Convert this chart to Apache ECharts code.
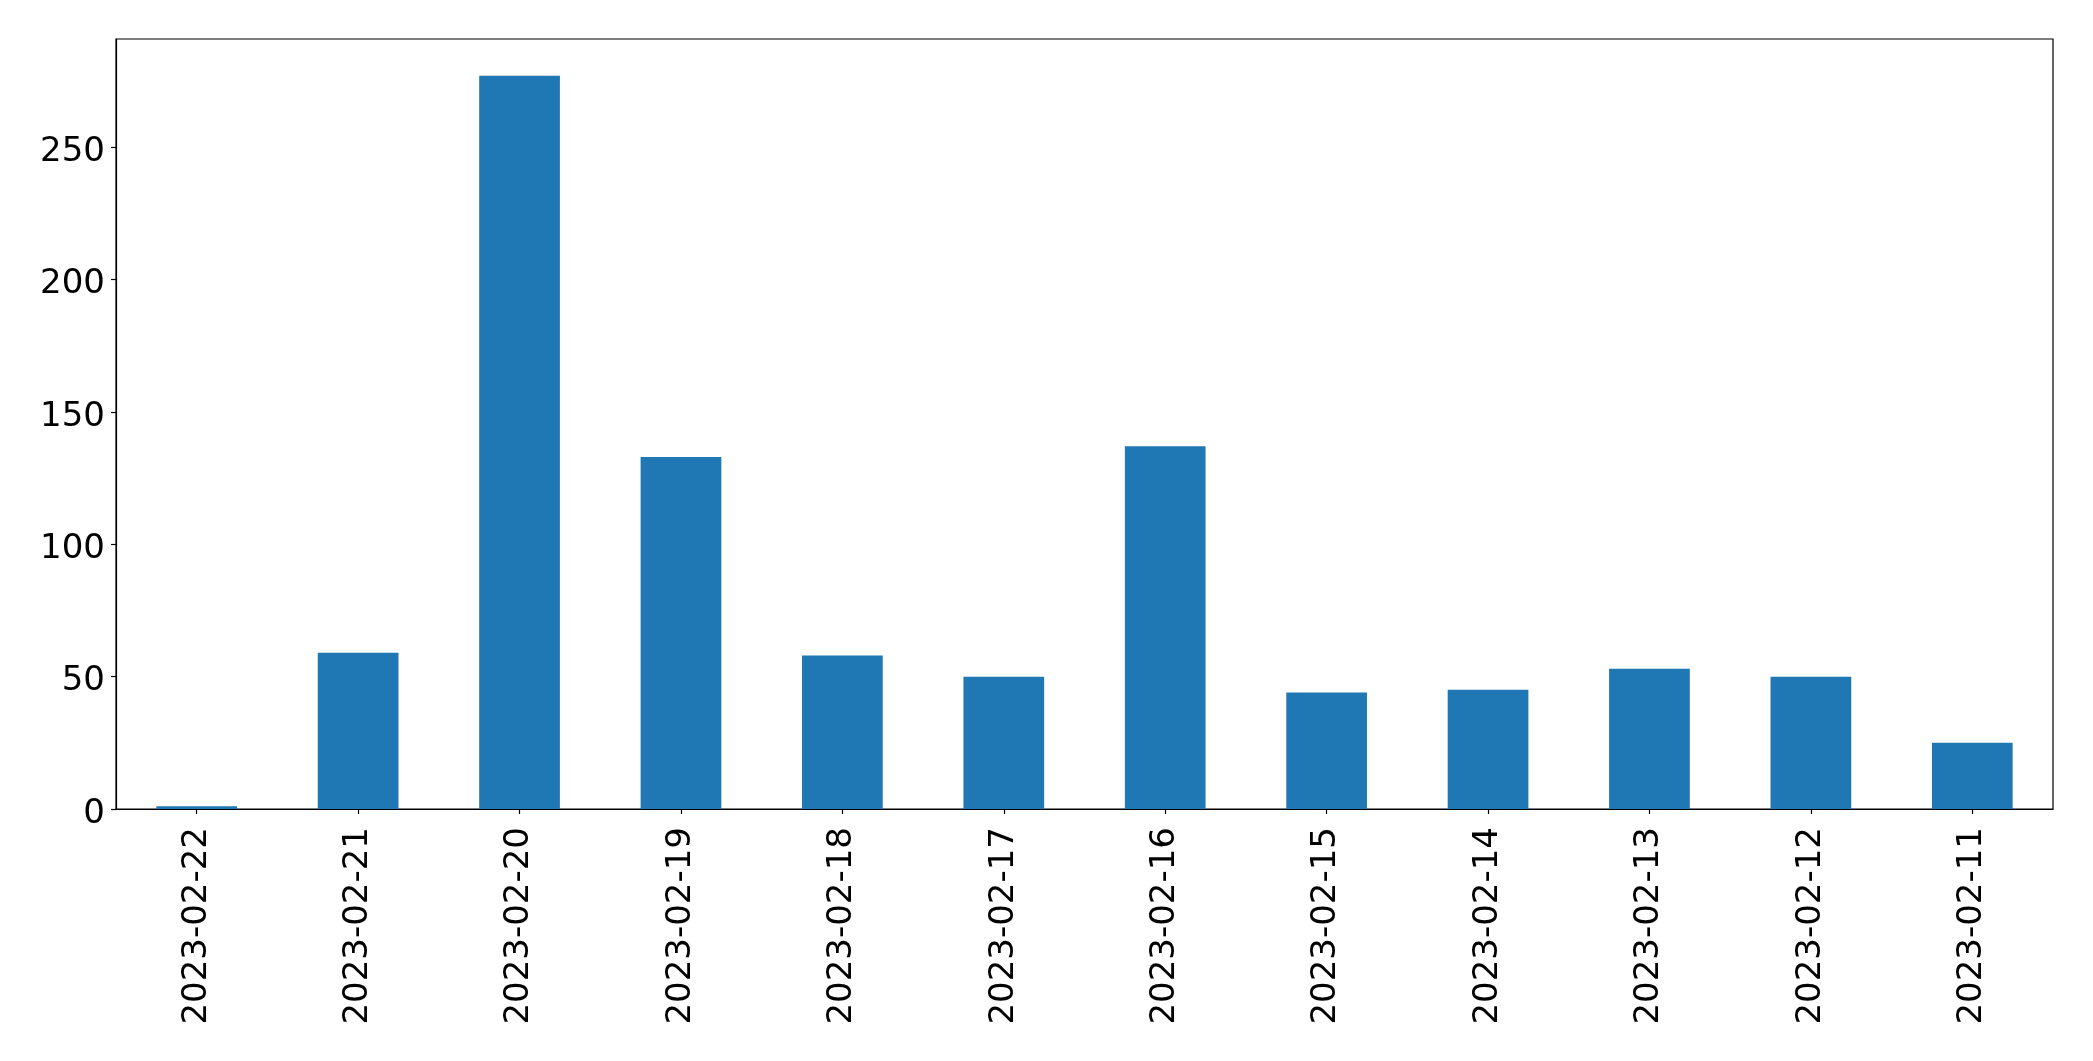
<!DOCTYPE html>
<html>
<head>
<meta charset="utf-8">
<script src="https://cdn.jsdelivr.net/npm/echarts@6/dist/echarts.min.js"></script>
<style>
  html, body { margin: 0; padding: 0; background: #fff; }
  #chart { width: 2093px; height: 1061px; }
</style>
</head>
<body>
<div id="chart"></div>
<script>
// data
var dates = ['2023-02-22', '2023-02-21', '2023-02-20', '2023-02-19', '2023-02-18', '2023-02-17',
             '2023-02-16', '2023-02-15', '2023-02-14', '2023-02-13', '2023-02-12', '2023-02-11'];
var counts = [1, 59, 277, 133, 58, 50, 137, 44, 45, 53, 50, 25];
var yTicks = [0, 50, 100, 150, 200, 250];

var chart = echarts.init(document.getElementById('chart'));

var font = "'DejaVu Sans', sans-serif";

option = {
    animation: false,
    backgroundColor: '#ffffff',
    grid: {
        left: 116,
        right: 40,
        top: 39,
        bottom: 252,
        show: true,
        borderColor: '#000',
        borderWidth: 1.2,
        containLabel: false
    },
    xAxis: {
        type: 'category',
        data: dates,
        axisLine: { show: true, lineStyle: { color: '#000', width: 1.2 } },
        axisTick: { show: true, alignWithLabel: true, length: 5, lineStyle: { color: '#000', width: 1.2 } },
        axisLabel: {
            rotate: 90,
            interval: 0,
            margin: 18,
            color: '#000',
            fontSize: 34,
            fontFamily: font
        },
        splitLine: { show: false }
    },
    yAxis: {
        type: 'value',
        min: 0,
        max: Math.max.apply(null, counts) * 1.05,
        axisLine: { show: true, lineStyle: { color: '#000', width: 1.2 } },
        axisTick: { show: true, length: 5, customValues: yTicks, lineStyle: { color: '#000', width: 1.2 } },
        axisLabel: {
            customValues: yTicks,
            margin: 11,
            formatter: function (v) { return '{n|' + v + '}'; },
            rich: {
                n: { padding: [10, 0, 0, 0], color: '#000', fontSize: 34, fontFamily: font }
            },
            color: '#000',
            fontSize: 34,
            fontFamily: font
        },
        splitLine: { show: false }
    },
    series: [
        {
            type: 'bar',
            data: counts,
            barCategoryGap: '50%',
            itemStyle: { color: '#1f77b4' }
        }
    ]
};

chart.setOption(option, true);
</script>
</body>
</html>
